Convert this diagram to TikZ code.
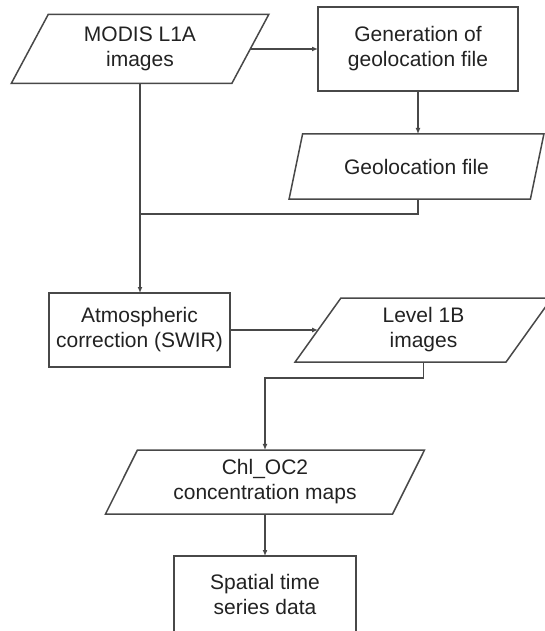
\documentclass[tikz,border=0pt]{standalone}
\usepackage{fontspec}
\setmainfont{Liberation Sans}
\usetikzlibrary{shapes.geometric,arrows.meta,calc}
\definecolor{ln}{HTML}{484848}
\definecolor{tx}{HTML}{222222}
\begin{document}
\begin{tikzpicture}[x=1pt,y=-1pt,
  every node/.style={font=\fontsize{21}{25}\selectfont, text=tx, align=center},
  proc/.style={draw=ln, line width=1.5pt, rectangle, inner sep=0pt, outer sep=0pt},
  data/.style={draw=ln, line width=1.5pt, trapezium, trapezium left angle=63.5,
    trapezium right angle=116.5, trapezium stretches=true, inner sep=1pt, outer sep=0pt},
  conn/.style={draw=ln, line width=1.5pt},
  arr/.style={conn, -{Latex[length=6pt,width=5pt]}}]
\useasboundingbox (0,0) rectangle (544,631);
\node[data, minimum width=258pt, minimum height=69pt] (modis) at (140,49) {MODIS L1A\\images};
\node[proc, minimum width=200pt, minimum height=84pt] (gen) at (418,49) {Generation of\\geolocation file};
\node[data, minimum width=255pt, minimum height=65pt] (geo) at (416.5,166.5) {Geolocation file};
\node[proc, minimum width=181pt, minimum height=74pt] (atm) at (139.5,330) {Atmospheric\\correction (SWIR)};
\node[data, minimum width=257pt, minimum height=64pt] (lvl) at (423.5,330) {Level 1B\\images};
\node[data, minimum width=320pt, minimum height=64pt] (chl) at (265,482) {Chl\_OC2\\concentration maps};
\node[proc, minimum width=182pt, minimum height=77pt] (sp) at (265,594.5) {Spatial time\\series data};
\coordinate (j) at (140,214);
\draw[arr] (modis.right side) -- (modis.right side -| gen.west);
\draw[arr] (gen.south) -- (gen.south |- geo.north);
\draw[conn] (gen.south |- geo.south) -- (gen.south |- j) -- (j);
\draw[arr] (modis.center |- modis.south) -- (modis.center |- atm.north);
\draw[arr] (atm.east) -- (lvl.left side);
\draw[arr] (lvl.center |- lvl.south) -- ++(0,16) -| (chl.center |- chl.north);
\draw[arr] (chl.center |- chl.south) -- (sp.north);
\end{tikzpicture}
\end{document}
